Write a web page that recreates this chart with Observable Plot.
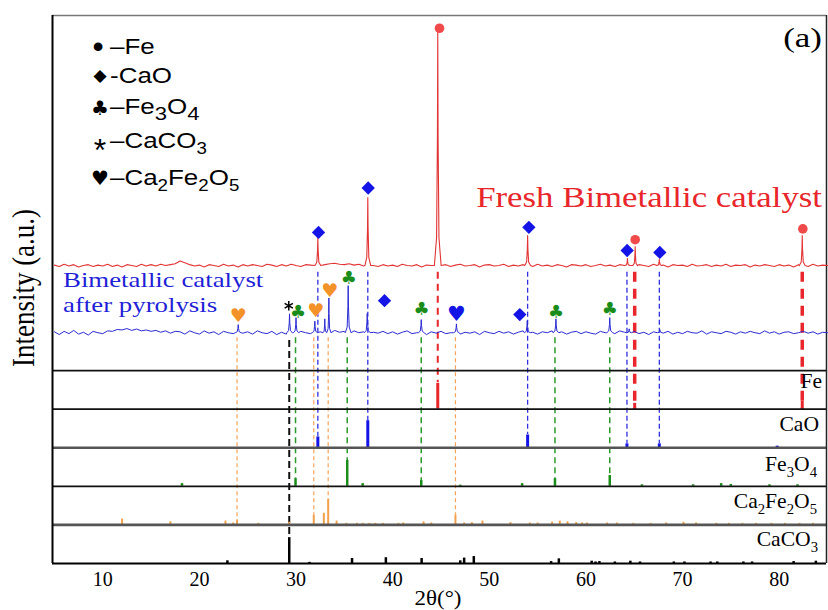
<!DOCTYPE html>
<html><head><meta charset="utf-8">
<script src="https://cdn.jsdelivr.net/npm/d3@7"></script>
<script src="https://cdn.jsdelivr.net/npm/@observablehq/plot@0.6"></script>
<style>body{margin:0;background:#fff}#chart{width:828px;height:610px}</style>
</head><body><div id="chart"></div>
<script>
// ---------- data ----------
const xTicks = [10, 20, 30, 40, 50, 60, 70, 80];
const gridStart = 5, gridStep = 0.5;          // 2θ sampling of the background
const redBase = 7.72, blueBase = 5.98;         // trace offsets (panel units)
const noiseUnit = 0.012;

// background (noise), one value per 0.5° from 5° to 85°
const redNoise = [
  1,-2,3,-1,2,-3,0,2,-2,1,
  -1,3,-2,1,-3,2,0,-2,3,-1,
  2,-1,3,0,2,4,10,6,2,-1,
  1,-3,2,0,-2,3,-1,1,-3,2,
  -1,2,0,-2,3,1,-2,2,-1,3,
  0,-2,2,1,-1,3,2,4,5,3,
  2,4,1,3,-1,2,0,-2,2,-1,
  1,-2,3,0,-1,2,-3,1,0,2,
  -1,2,-2,1,3,-1,0,2,-3,1,
  2,-1,0,3,-2,1,-1,2,0,-2,
  3,-1,1,-2,2,0,-3,2,1,-1,
  2,-2,0,3,-1,1,-2,2,0,1,
  -1,2,0,-2,3,-1,1,-3,2,0,
  1,-2,3,-1,0,2,-2,1,-1,3,
  -2,1,0,2,-3,1,-1,2,0,-2,
  2,-1,1,-3,2,0,-2,3,-1,1,
  0];
const blueNoise = [
  2,-4,3,-2,5,-3,1,-5,3,0,
  -2,4,3,7,6,9,5,8,4,6,
  3,5,1,4,-1,3,2,-3,4,0,
  -3,4,-1,2,-4,3,0,-2,5,-1,
  2,-3,4,0,-2,3,-4,1,-3,2,
  -1,3,0,-2,4,2,-1,3,5,1,
  3,-2,4,0,2,-3,1,-1,3,-2,
  2,-3,1,4,-2,0,3,-4,2,-1,
  3,-2,0,4,-3,1,-1,2,-4,3,
  0,-2,3,-1,2,-3,1,4,-2,1,
  -3,2,0,4,-1,2,-3,1,3,-2,
  2,-1,-3,3,0,2,-2,4,1,-1,
  3,-2,1,-4,2,0,-1,3,-3,1,
  -2,3,0,-1,4,-3,2,0,-2,3,
  1,-3,2,-1,3,0,-2,4,-1,2,
  -3,1,2,-2,0,3,-1,2,-3,1,
  0];

// peaks: [2θ, height, half-width]
const redPeaks = [[32.26,0.73,0.3],[37.43,1.76,0.3],[44.67,6.05,0.35],[53.97,0.78,0.3],
  [64.3,0.18,0.25],[65.1,0.49,0.25],[67.6,0.16,0.25],[82.39,0.78,0.3]];
const bluePeaks = [[24.02,0.21,0.3],[29.33,0.49,0.28],[30.0,0.39,0.28],[31.95,0.3,0.28],
  [32.98,0.36,0.2],[33.4,0.9,0.22],[35.4,1.22,0.3],[37.37,0.5,0.3],[42.96,0.34,0.3],
  [46.6,0.23,0.3],[53.93,0.31,0.3],[56.9,0.36,0.3],[62.47,0.39,0.3],[64.48,0.1,0.25],[67.65,0.08,0.25]];

// peak markers: [2θ, level]
const markFe = [[44.85,13.87],[65.1,8.39],[82.45,8.67]];
const markCaO = [[32.33,8.58],[37.47,9.73],[54.1,8.71],[64.27,8.11],[67.65,8.06],[39.16,6.81],[53.16,6.45]];
const markFe3O4 = [[30.2,6.51],[35.46,7.4],[43.0,6.58],[56.9,6.51],[62.48,6.6]];
const markCa2Fe2O5 = [[24.02,6.42],[32.05,6.54],[33.5,7.07]];
const markCa2Fe2O5Blue = [[46.6,6.46]];
const markCaCO3 = [[29.25,6.68]];

// guide lines: [2θ, top, bottom]
const lineFeThin = [[44.67,7.55,4.69]];
const lineFeThick = [[65.05,7.55,4.0],[82.39,7.55,4.0]];
const lineCaO = [[32.26,7.55,3.29],[37.43,7.55,3.7],[53.97,7.55,3.34],[64.25,7.55,3.1],[67.6,7.55,3.1]];
const lineFe3O4 = [[29.95,5.85,2.2],[35.3,5.85,2.67],[42.96,5.85,2.15],[56.8,5.85,2.2],[62.47,5.85,2.28]];
const lineCa2Fe2O5 = [[23.9,5.85,1.14],[31.84,5.85,1.26],[33.33,5.85,1.67],[46.5,5.85,1.26]];
const lineCaCO3 = [[29.3,5.78,0.67]];

// reference patterns: [2θ, relative intensity]
const refFe = [[44.67,0.67],[65.05,0.15],[82.39,0.2]];
const refCaO = [[32.26,0.28],[37.43,0.7],[53.97,0.33],[64.25,0.1],[67.6,0.1],[79.8,0.04]];
const refFe3O4 = [[18.2,0.07],[29.95,0.2],[35.3,0.67],[36.9,0.07],[42.96,0.15],[47.0,0.03],[53.4,0.07],
  [56.8,0.2],[62.47,0.28],[65.8,0.04],[71.1,0.04],[74.0,0.07],[75.0,0.05],[79.0,0.04],[81.9,0.04]];
const refCa2Fe2O5 = [[12.0,0.15],[17.0,0.08],[22.7,0.1],[23.5,0.05],[23.9,0.13],[26.1,0.04],[29.3,0.07],
  [31.84,0.26],[32.88,0.3],[33.33,0.67],[34.2,0.1],[35.2,0.04],[36.3,0.04],[36.9,0.04],[37.6,0.04],
  [38.2,0.04],[39.0,0.04],[40.6,0.04],[41.1,0.05],[43.2,0.08],[44.0,0.05],[46.5,0.26],[47.4,0.05],
  [48.2,0.06],[49.3,0.1],[52.2,0.06],[54.2,0.05],[55.0,0.05],[56.5,0.07],[57.3,0.1],[58.1,0.08],
  [59.0,0.06],[59.6,0.05],[60.1,0.05],[62.2,0.05],[63.2,0.05],[64.9,0.04],[66.7,0.04],[68.3,0.05],
  [70.1,0.07],[71.4,0.05],[73.5,0.04],[74.8,0.04],[76.2,0.04],[77.6,0.04],[79.2,0.04],[80.6,0.04],
  [82.1,0.04],[83.5,0.04]];
const refCaCO3 = [[22.9,0.07],[29.3,0.67],[31.4,0.03],[35.8,0.13],[39.3,0.15],[43.0,0.13],[47.0,0.07],
  [47.4,0.14],[48.4,0.18],[56.4,0.05],[57.2,0.12],[60.6,0.06],[61.0,0.04],[61.4,0.05],[63.0,0.04],
  [64.6,0.06],[65.6,0.04],[69.1,0.04],[70.2,0.04],[72.9,0.04],[73.6,0.04],[76.3,0.04],[77.2,0.04],
  [81.5,0.05],[83.8,0.06]];

// text
const legendSymbols = ["•", "◆", "♣", "*", "♥"];
const legendNames = ["–Fe", "-CaO", "–Fe3O4", "–CaCO3", "–Ca2Fe2O5"];
const panelNames = ["Fe", "CaO", "Fe3O4", "Ca2Fe2O5", "CaCO3"];
const panelBases = [4, 3, 2, 1, 0];
const freshLabel = "Fresh Bimetallic catalyst";
const usedLabel = ["Bimetallic catalyst", "after pyrolysis"];
const panelTag = "(a)";
const yLabel = "Intensity (a.u.)";
const xLabel = "2θ(°)";

// ---------- build ----------
function buildTrace(base, noise, peaks) {
  const pts = noise.map((n, i) => ({x: gridStart + i * gridStep, y: base + n * noiseUnit}))
    .filter(p => !peaks.some(([c, , w]) => Math.abs(p.x - c) < w));
  for (const [c, h, w] of peaks) {
    pts.push({x: c - w, y: base}, {x: c - w * 0.35, y: base + h * 0.12}, {x: c - w * 0.1, y: base + h * 0.55},
      {x: c, y: base + h},
      {x: c + w * 0.1, y: base + h * 0.55}, {x: c + w * 0.35, y: base + h * 0.12}, {x: c + w, y: base});
  }
  return pts.sort((a, b) => a.x - b.x);
}
const redTrace = buildTrace(redBase, redNoise, redPeaks);
const blueTrace = buildTrace(blueBase, blueNoise, bluePeaks);

const colRed = "#e8262b", colBlue = "#1414e6", colGreen = "#1a8c1a", colOrange = "#f4922a";
const xDomain = [4.8, 84.9], yTop = 14.2;

const refBars = (data, base, color, w) => Plot.ruleX(data, {x: d => d[0], y1: base, y2: d => base + d[1], stroke: color, strokeWidth: w});
const guide = (data, color, w, dash) => Plot.ruleX(data, {x: d => d[0], y1: d => d[1], y2: d => d[2], stroke: color, strokeWidth: w, strokeDasharray: dash});
const glyph = (data, ch, color, size) => Plot.text(data, {x: d => d[0], y: d => d[1], text: () => ch, fill: color, fontSize: size, fontFamily: "DejaVu Sans", lineAnchor: "middle"});

const svgEl = Plot.plot({
  width: 828, height: 610,
  marginTop: 15, marginLeft: 52, marginRight: 2, marginBottom: 47,
  style: {fontFamily: "'Liberation Serif', 'Times New Roman', serif", fontSize: "20px", background: "white", color: "black"},
  x: {domain: xDomain, ticks: xTicks, tickSize: 0, tickPadding: 8, tickFormat: d => String(d), label: null},
  y: {domain: [0, yTop], axis: null},
  marks: [
    // guide lines
    guide(lineCa2Fe2O5, "#f5a35a", 1.2, "4,3"),
    guide(lineCaO, "#3030e0", 1.3, "5,3"),
    guide(lineFe3O4, "#2a9a2a", 1.5, "6,4"),
    guide(lineCaCO3, "#111", 2, "7,4"),
    guide(lineFeThin, colRed, 2, "7,5"),
    guide(lineFeThick, colRed, 3.5, "10,7"),
    // reference patterns
    refBars(refFe, panelBases[0], colRed, 3),
    refBars(refCaO, panelBases[1], colBlue, 3),
    refBars(refFe3O4, panelBases[2], colGreen, 2.5),
    refBars(refCa2Fe2O5, panelBases[3], "#f3a04a", 2),
    refBars(refCaCO3, panelBases[4], "#000", 2.5),
    // panel frames
    Plot.ruleY([2, 4, 5], {stroke: "#111", strokeWidth: 1.8}),
    Plot.ruleY([1, 3], {stroke: "#555", strokeWidth: 2.6}),
    Plot.ruleY([0], {stroke: "#000", strokeWidth: 2}),
    Plot.ruleY([yTop], {stroke: "#777", strokeWidth: 1.5}),
    Plot.ruleX([xDomain[0]], {stroke: "#000", strokeWidth: 2}),
    Plot.ruleX([xDomain[1]], {stroke: "#222", strokeWidth: 1.5}),
    // traces
    Plot.line(redTrace, {x: "x", y: "y", stroke: "#e23434", strokeWidth: 1.1}),
    Plot.line(blueTrace, {x: "x", y: "y", stroke: "#2a2ad4", strokeWidth: 1}),
    // markers
    Plot.dot(markFe, {x: d => d[0], y: d => d[1], r: 4.8, fill: "#f04a4a", stroke: "none"}),
    Plot.dot(markCaO, {x: d => d[0], y: d => d[1], r: 6, symbol: "diamond2", fill: colBlue, stroke: "none"}),
    Plot.dot(markCaCO3, {x: d => d[0], y: d => d[1], r: 4.5, symbol: "asterisk", stroke: "#000", strokeWidth: 1.5}),
    glyph(markFe3O4, "♣", colGreen, 18),
    glyph(markCa2Fe2O5, "♥", colOrange, 19),
    glyph(markCa2Fe2O5Blue, "♥", colBlue, 21)
  ]
});
document.getElementById("chart").append(svgEl);
const s = d3.select(svgEl);

function formula(str, scale = 0.7, shift = 0.28) {
  return str.split(/(\d)/).filter(Boolean).map(t => /\d/.test(t) ? {t, sub: true, scale, shift} : {t});
}
function addText(o) {
  const g = s.append("g").attr("transform",
    `translate(${o.x},${o.y}) scale(${o.sx || 1},1)${o.rotate ? ` rotate(${o.rotate})` : ""}`);
  const t = g.append("text").attr("text-anchor", o.anchor || "start")
    .attr("font-family", o.family).attr("font-size", o.size).attr("fill", o.fill || "black");
  if (o.baseline) t.attr("dominant-baseline", o.baseline);
  let cur = 0;
  for (const seg of o.parts) {
    const sc = seg.sub ? seg.scale : 1;
    const off = seg.sub ? seg.shift * o.size : 0;
    t.append("tspan").attr("font-size", o.size * sc).attr("dy", off - cur).text(seg.t);
    cur = off;
  }
}
const serif = "'Liberation Serif', 'Times New Roman', serif";
const sans = "'Liberation Sans', Arial, sans-serif";

// legend
const legSymY = [46, 75, 108, 150, 178], legSymSize = [32, 17, 20, 32, 20];
const legSymFont = [sans, "'DejaVu Sans'", "'DejaVu Sans'", sans, "'DejaVu Sans'"];
const legTextY = [54, 83, 114, 148, 185];
legendSymbols.forEach((ch, i) => addText({x: i === 0 ? 98 : 100, y: legSymY[i], anchor: "middle", size: legSymSize[i],
  family: legSymFont[i], baseline: "central", parts: [{t: ch}]}));
legendNames.forEach((nm, i) => addText({x: 110, y: legTextY[i], size: 22, sx: 1.18, family: sans,
  parts: formula(nm, i === 2 ? 0.85 : 0.72, 0.25)}));

// sample labels
addText({x: 822, y: 47, anchor: "end", size: 28, sx: 1.25, family: serif, parts: [{t: panelTag}]});
addText({x: 822, y: 207, anchor: "end", size: 29, sx: 1.2, family: serif, fill: colRed, parts: [{t: freshLabel}]});
addText({x: 63, y: 287, size: 22, sx: 1.22, family: serif, fill: "#1f1fd8", parts: [{t: usedLabel[0]}]});
addText({x: 63, y: 312, size: 22, sx: 1.22, family: serif, fill: "#1f1fd8", parts: [{t: usedLabel[1]}]});

// panel names
const panelNameY = [388, 431, 471, 508, 546], panelNameX = [822, 819, 817, 817, 818];
panelNames.forEach((nm, i) => addText({x: panelNameX[i], y: panelNameY[i], anchor: "end", size: 20, sx: 1.08,
  family: serif, parts: formula(nm, 0.68, 0.3)}));

// axis titles
addText({x: 34, y: 288, anchor: "middle", size: 27, sx: 1.2, rotate: -90, family: serif, parts: [{t: yLabel}]});
addText({x: 438, y: 605, anchor: "middle", size: 20, sx: 1.15, family: serif, parts: [{t: xLabel}]});
</script></body></html>
